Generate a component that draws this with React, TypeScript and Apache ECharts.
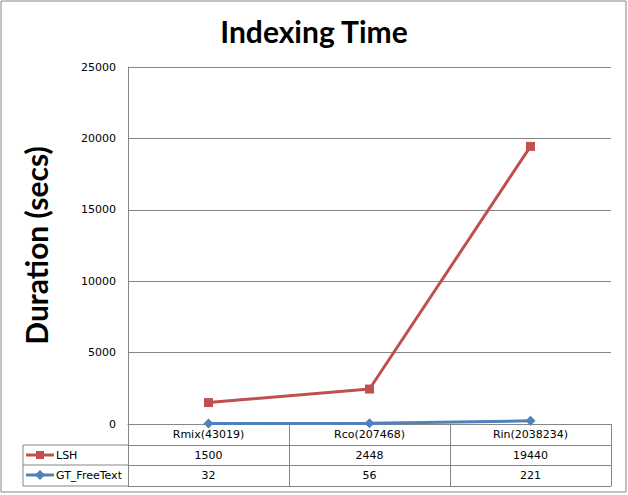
import React, { useEffect, useRef } from "react";
import * as echarts from "echarts";

const categories = ["Rmix(43019)", "Rco(207468)", "Rin(2038234)"];
const lshValues = [1500, 2448, 19440];
const gtValues = [32, 56, 221];
const seriesNames = ["LSH", "GT_FreeText"];
const yTicks = { min: 0, max: 25000, interval: 5000 };

const RED = "#C0504D";
const BLUE = "#4F81BD";
const GRAY = "#868686";
const TXT_FONT = "DejaVu Sans";

export default function App() {
  const ref = useRef<HTMLDivElement>(null);
  useEffect(() => {
    document.body.style.margin = "0";
    const chart = echarts.init(ref.current!, undefined, { renderer: "svg" });
    const rowAxis = (data: (string | number)[], offset: number, showLabel: boolean, tickLen: number) => ({
      type: "category",
      data: data.map(String),
      position: "bottom",
      offset,
      boundaryGap: true,
      axisLine: { show: true, lineStyle: { color: GRAY, width: 1 } },
      axisTick: { show: tickLen > 0, length: tickLen, lineStyle: { color: GRAY } },
      axisLabel: {
        show: showLabel,
        color: "#000",
        fontSize: 11,
        fontFamily: TXT_FONT,
        margin: 5,
      },
      splitLine: { show: false },
    });
    chart.setOption({
      animation: false,
      backgroundColor: "#fff",
      title: {
        text: "Indexing Time",
        left: "center",
        top: 11,
        textStyle: { fontSize: 30, fontWeight: "bold", fontFamily: "Lato", color: "#000" },
      },
      grid: { left: 128, right: 17, top: 67, bottom: 71, containLabel: false },
      xAxis: [
        rowAxis(categories, 0, true, 21),
        rowAxis(lshValues, 21, true, 20),
        rowAxis(gtValues, 41, true, 21),
        rowAxis(categories, 62, false, 0),
      ],
      yAxis: {
        type: "value",
        min: yTicks.min,
        max: yTicks.max,
        interval: yTicks.interval,
        name: "Duration (secs)",
        nameLocation: "middle",
        nameRotate: 90,
        nameGap: 77,
        nameTextStyle: { fontSize: 30, fontWeight: "bold", fontFamily: "Lato", color: "#000" },
        axisLine: { show: true, lineStyle: { color: GRAY } },
        axisTick: { show: false },
        axisLabel: { color: "#000", fontSize: 11, fontFamily: TXT_FONT, margin: 12, formatter: (v: number) => String(v) },
        splitLine: { show: true, lineStyle: { color: GRAY, width: 1 } },
      },
      series: [
        {
          name: seriesNames[0],
          type: "line",
          data: lshValues,
          xAxisIndex: 0,
          symbol: "rect",
          symbolSize: 9,
          itemStyle: { color: RED },
          lineStyle: { color: RED, width: 3 },
          z: 3,
        },
        {
          name: seriesNames[1],
          type: "line",
          data: gtValues,
          xAxisIndex: 0,
          symbol: "diamond",
          symbolSize: 10,
          itemStyle: { color: BLUE },
          lineStyle: { color: BLUE, width: 3 },
          z: 4,
        },
      ],
      graphic: [
        { type: "rect", shape: { x: 1, y: 1, width: 625, height: 491 }, style: { fill: "none", stroke: GRAY, lineWidth: 1 }, silent: true },
        { type: "line", shape: { x1: 23, y1: 445, x2: 128, y2: 445 }, style: { stroke: GRAY, lineWidth: 1 } },
        { type: "line", shape: { x1: 23, y1: 465, x2: 128, y2: 465 }, style: { stroke: GRAY, lineWidth: 1 } },
        { type: "line", shape: { x1: 23, y1: 486, x2: 128, y2: 486 }, style: { stroke: GRAY, lineWidth: 1 } },
        { type: "line", shape: { x1: 23, y1: 445, x2: 23, y2: 486 }, style: { stroke: GRAY, lineWidth: 1 } },
        { type: "line", shape: { x1: 26, y1: 455, x2: 54, y2: 455 }, style: { stroke: RED, lineWidth: 3 } },
        { type: "rect", shape: { x: 36, y: 451, width: 8, height: 8 }, style: { fill: RED } },
        { type: "text", style: { text: seriesNames[0], x: 56, y: 455, verticalAlign: "middle", fontSize: 11, fontFamily: TXT_FONT, fill: "#000" } },
        { type: "line", shape: { x1: 26, y1: 475, x2: 54, y2: 475 }, style: { stroke: BLUE, lineWidth: 3 } },
        { type: "polygon", shape: { points: [[40, 470], [45, 475], [40, 480], [35, 475]] }, style: { fill: BLUE } },
        { type: "text", style: { text: seriesNames[1], x: 56, y: 475, verticalAlign: "middle", fontSize: 11, fontFamily: TXT_FONT, fill: "#000" } },
      ],
    });
    return () => chart.dispose();
  }, []);
  return <div ref={ref} style={{ width: 628, height: 495 }} />;
}
